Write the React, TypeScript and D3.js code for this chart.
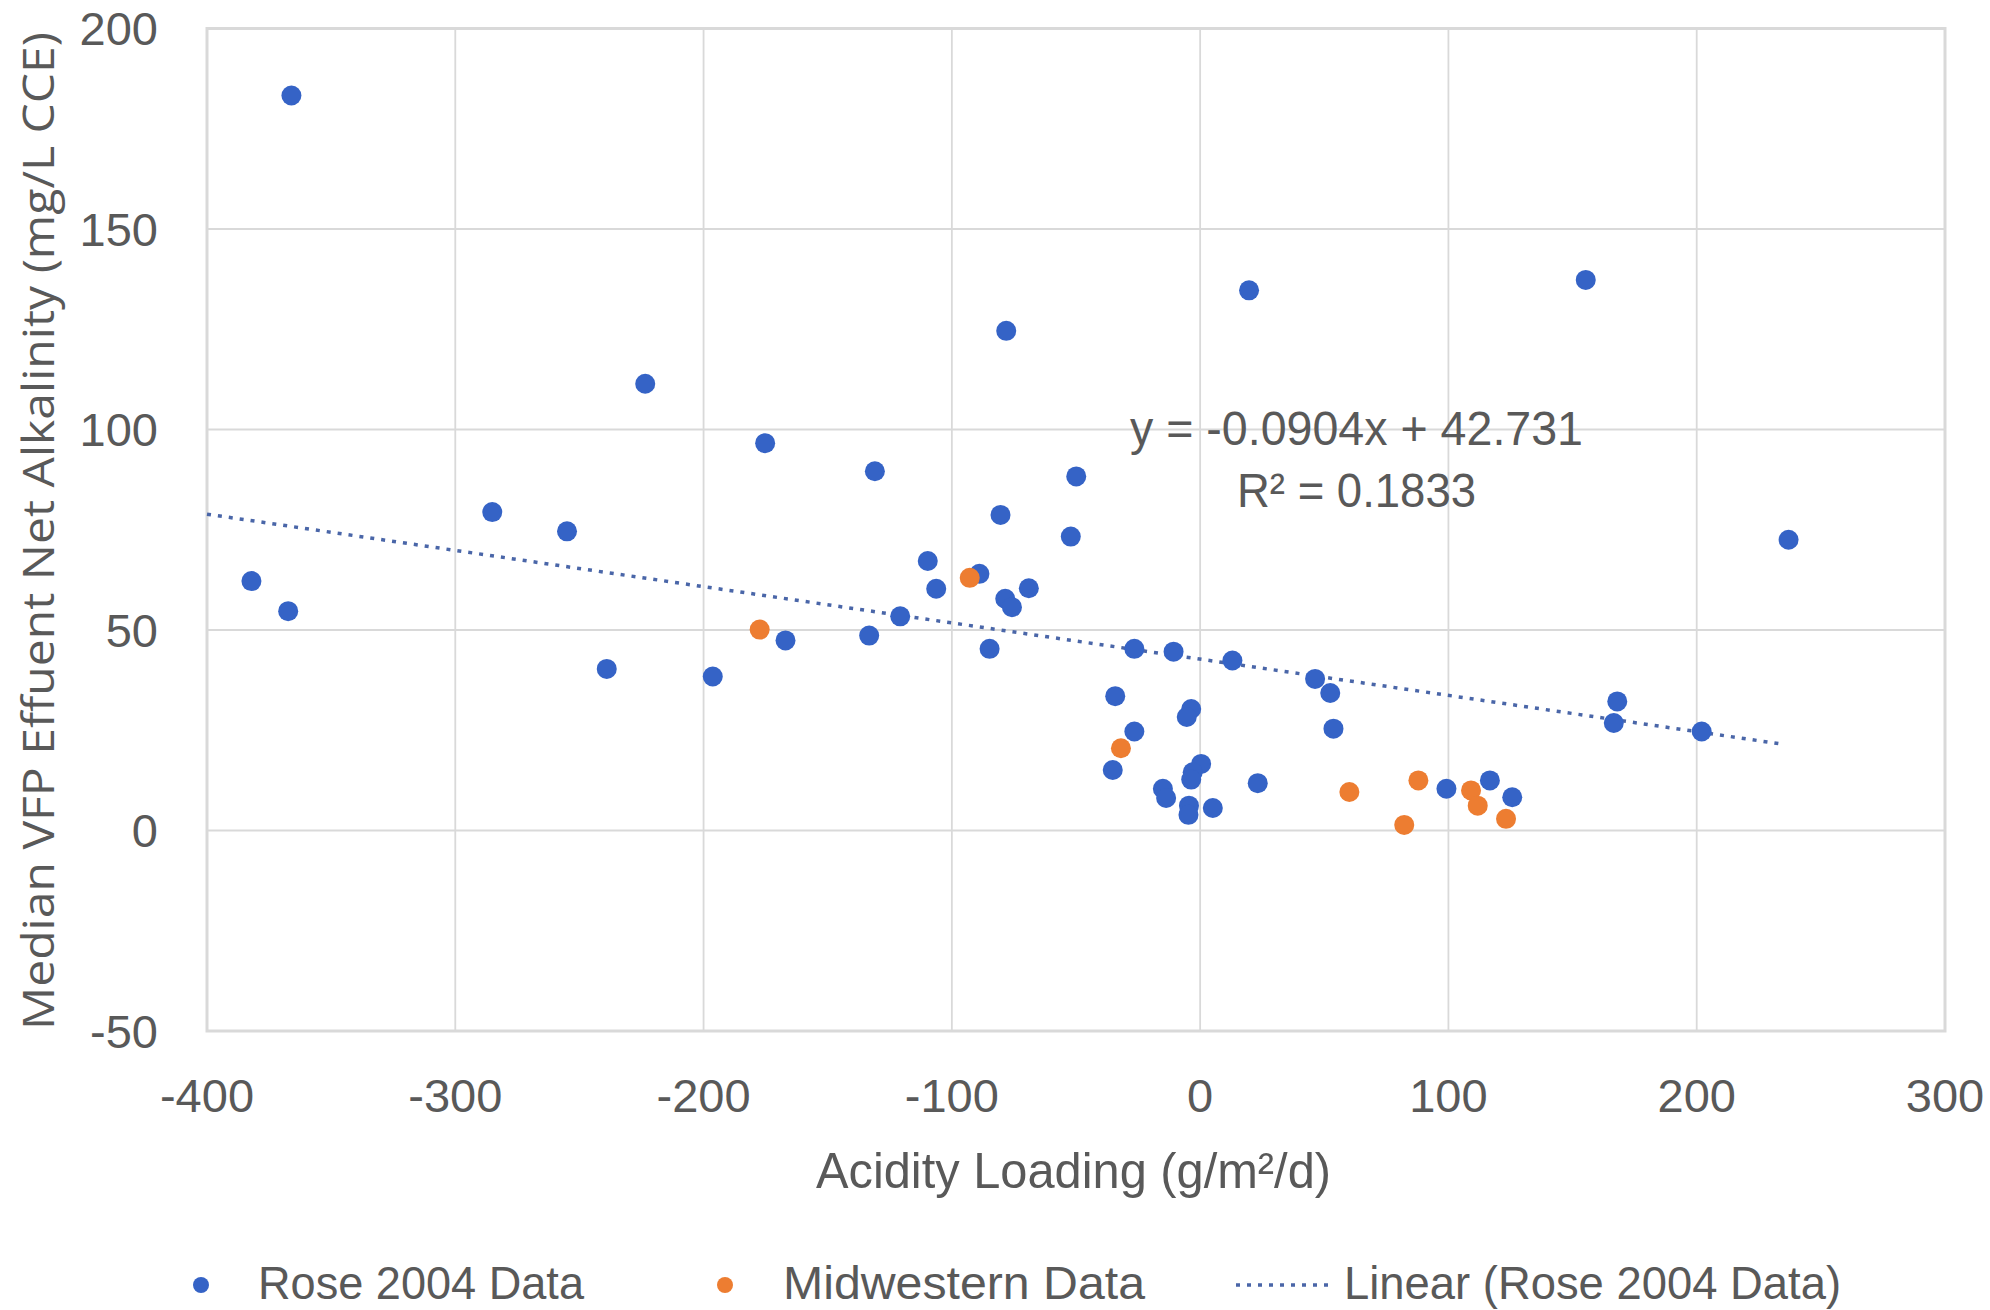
import { scaleLinear, line } from 'd3';

const width = 1990;
const height = 1310;

// Rose 2004 data: acidity loading (g/m2/d) and median net alkalinity (mg/L CCE)
const roseX = [
  -366, -223.5, -78.1, 19.7, 155.3, -175.2, -382.1, -367.3, -285.1, -255,
  -239, -131, -49.9, -80.4, -52.1, -109.7, -88.9, -106.3, -69, -78.5,
  -75.8, -120.8, -167, -133.3, -84.8, -196.3, -26.5, -10.7, 13, 46.3,
  52.4, 53.7, -34.2, -3.6, -5.4, -26.5, -35.2, 0.4, -3, -3.6,
  -15, -13.7, 23.2, -4.5, -4.7, 5.1, 237, 168, 166.6, 202,
  99.2, 116.7, 125.7,
];
const roseY = [
  183.3, 111.4, 124.6, 134.7, 137.3, 96.6, 62.2, 54.7, 79.4, 74.6,
  40.3, 89.6, 88.3, 78.7, 73.3, 67.2, 64, 60.3, 60.4, 57.8,
  55.7, 53.4, 47.4, 48.6, 45.3, 38.4, 45.3, 44.6, 42.4, 37.8,
  34.3, 25.4, 33.5, 30.3, 28.3, 24.7, 15.1, 16.6, 14.5, 12.7,
  10.4, 8.1, 11.8, 6.2, 3.9, 5.6, 72.5, 32.2, 26.8, 24.7,
  10.4, 12.5, 8.3,
];

// Midwestern data
const midX = [-92.8, -177.4, -31.9, 60.1, 87.9, 82.2, 109.1, 111.8, 123.2];
const midY = [63, 50.1, 20.5, 9.6, 12.5, 1.4, 10, 6.2, 2.9];

// linear trendline of the Rose data, as printed on the chart
const slope = -0.0904;
const intercept = 42.731;
const trendExtent = [-400, 235];

const xTicks = [-400, -300, -200, -100, 0, 100, 200, 300];
const yTicks = [-50, 0, 50, 100, 150, 200];

const legendLabels = ['Rose 2004 Data', 'Midwestern Data', 'Linear (Rose 2004 Data)'];

const blue = '#3563c6';
const orange = '#ed7d31';
const trendColor = '#4a66a8';
const textColor = '#595959';
const gridColor = '#d9d9d9';
const sans = '"Liberation Sans", Arial, sans-serif';
const wide = '"Open Sans", "Noto Sans", sans-serif';

const plot = { left: 207, right: 1945, top: 28.5, bottom: 1031 };

function App() {
  const xScale = scaleLinear().domain([-400, 300]).range([plot.left, plot.right]);
  const yScale = scaleLinear().domain([-50, 200]).range([plot.bottom, plot.top]);

  const trendPath = line<number>()
    .x(d => xScale(d))
    .y(d => yScale(slope * d + intercept))(trendExtent);

  return (
    <svg
      width={width}
      height={height}
      style={{ position: 'absolute', left: 0, top: 0, background: '#fff' }}
    >
      <rect width={width} height={height} fill='#fff' />

      {/* grid */}
      {xTicks.map(t => (
        <line key={'gx' + t} x1={xScale(t)} x2={xScale(t)} y1={plot.top} y2={plot.bottom}
          stroke={gridColor} strokeWidth={1.8} />
      ))}
      {yTicks.map(t => (
        <line key={'gy' + t} x1={plot.left} x2={plot.right} y1={yScale(t)} y2={yScale(t)}
          stroke={gridColor} strokeWidth={1.8} />
      ))}
      <rect x={plot.left} y={plot.top} width={plot.right - plot.left} height={plot.bottom - plot.top}
        fill='none' stroke={gridColor} strokeWidth={3} />

      {/* tick labels */}
      {yTicks.map(t => (
        <text key={'ly' + t} x={158} y={yScale(t)} dy='0.36em' textAnchor='end'
          fontFamily={sans} fontSize={47} fill={textColor}>{t}</text>
      ))}
      {xTicks.map(t => (
        <text key={'lx' + t} x={xScale(t)} y={1095} dy='0.36em' textAnchor='middle'
          fontFamily={sans} fontSize={47} fill={textColor}>{t}</text>
      ))}

      {/* axis titles */}
      <text x={816} y={1188} textLength={515} lengthAdjust='spacingAndGlyphs'
        fontFamily={sans} fontSize={50} fill={textColor}>
        Acidity Loading (g/m²/d)
      </text>
      <text transform='translate(54, 1030) rotate(-90)' textLength={998} lengthAdjust='spacingAndGlyphs'
        fontFamily={wide} fontSize={44} fill={textColor}>
        Median VFP Effuent Net Alkalinity (mg/L CCE)
      </text>

      {/* trendline */}
      <path d={trendPath ?? ''} fill='none' stroke={trendColor} strokeWidth={3.5}
        strokeDasharray='4 7' />

      {/* points */}
      {roseX.map((x, i) => (
        <circle key={'r' + i} cx={xScale(x)} cy={yScale(roseY[i])} r={10} fill={blue} />
      ))}
      {midX.map((x, i) => (
        <circle key={'m' + i} cx={xScale(x)} cy={yScale(midY[i])} r={10} fill={orange} />
      ))}

      {/* equation */}
      <text x={1130} y={445} textLength={453} lengthAdjust='spacingAndGlyphs'
        fontFamily={sans} fontSize={49} fill={textColor}>
        y = -0.0904x + 42.731
      </text>
      <text x={1237} y={507} textLength={239} lengthAdjust='spacingAndGlyphs'
        fontFamily={sans} fontSize={49} fill={textColor}>
        R² = 0.1833
      </text>

      {/* legend */}
      <circle cx={201} cy={1285} r={8} fill={blue} />
      <text x={258} y={1299} textLength={326} lengthAdjust='spacingAndGlyphs'
        fontFamily={sans} fontSize={46} fill={textColor}>{legendLabels[0]}</text>
      <circle cx={725} cy={1285} r={8} fill={orange} />
      <text x={783} y={1299} textLength={362} lengthAdjust='spacingAndGlyphs'
        fontFamily={sans} fontSize={46} fill={textColor}>{legendLabels[1]}</text>
      <line x1={1236} x2={1328} y1={1285} y2={1285} stroke={trendColor} strokeWidth={3.5}
        strokeDasharray='4 7' />
      <text x={1344} y={1299} textLength={497} lengthAdjust='spacingAndGlyphs'
        fontFamily={sans} fontSize={46} fill={textColor}>{legendLabels[2]}</text>
    </svg>
  );
}

export default App;
